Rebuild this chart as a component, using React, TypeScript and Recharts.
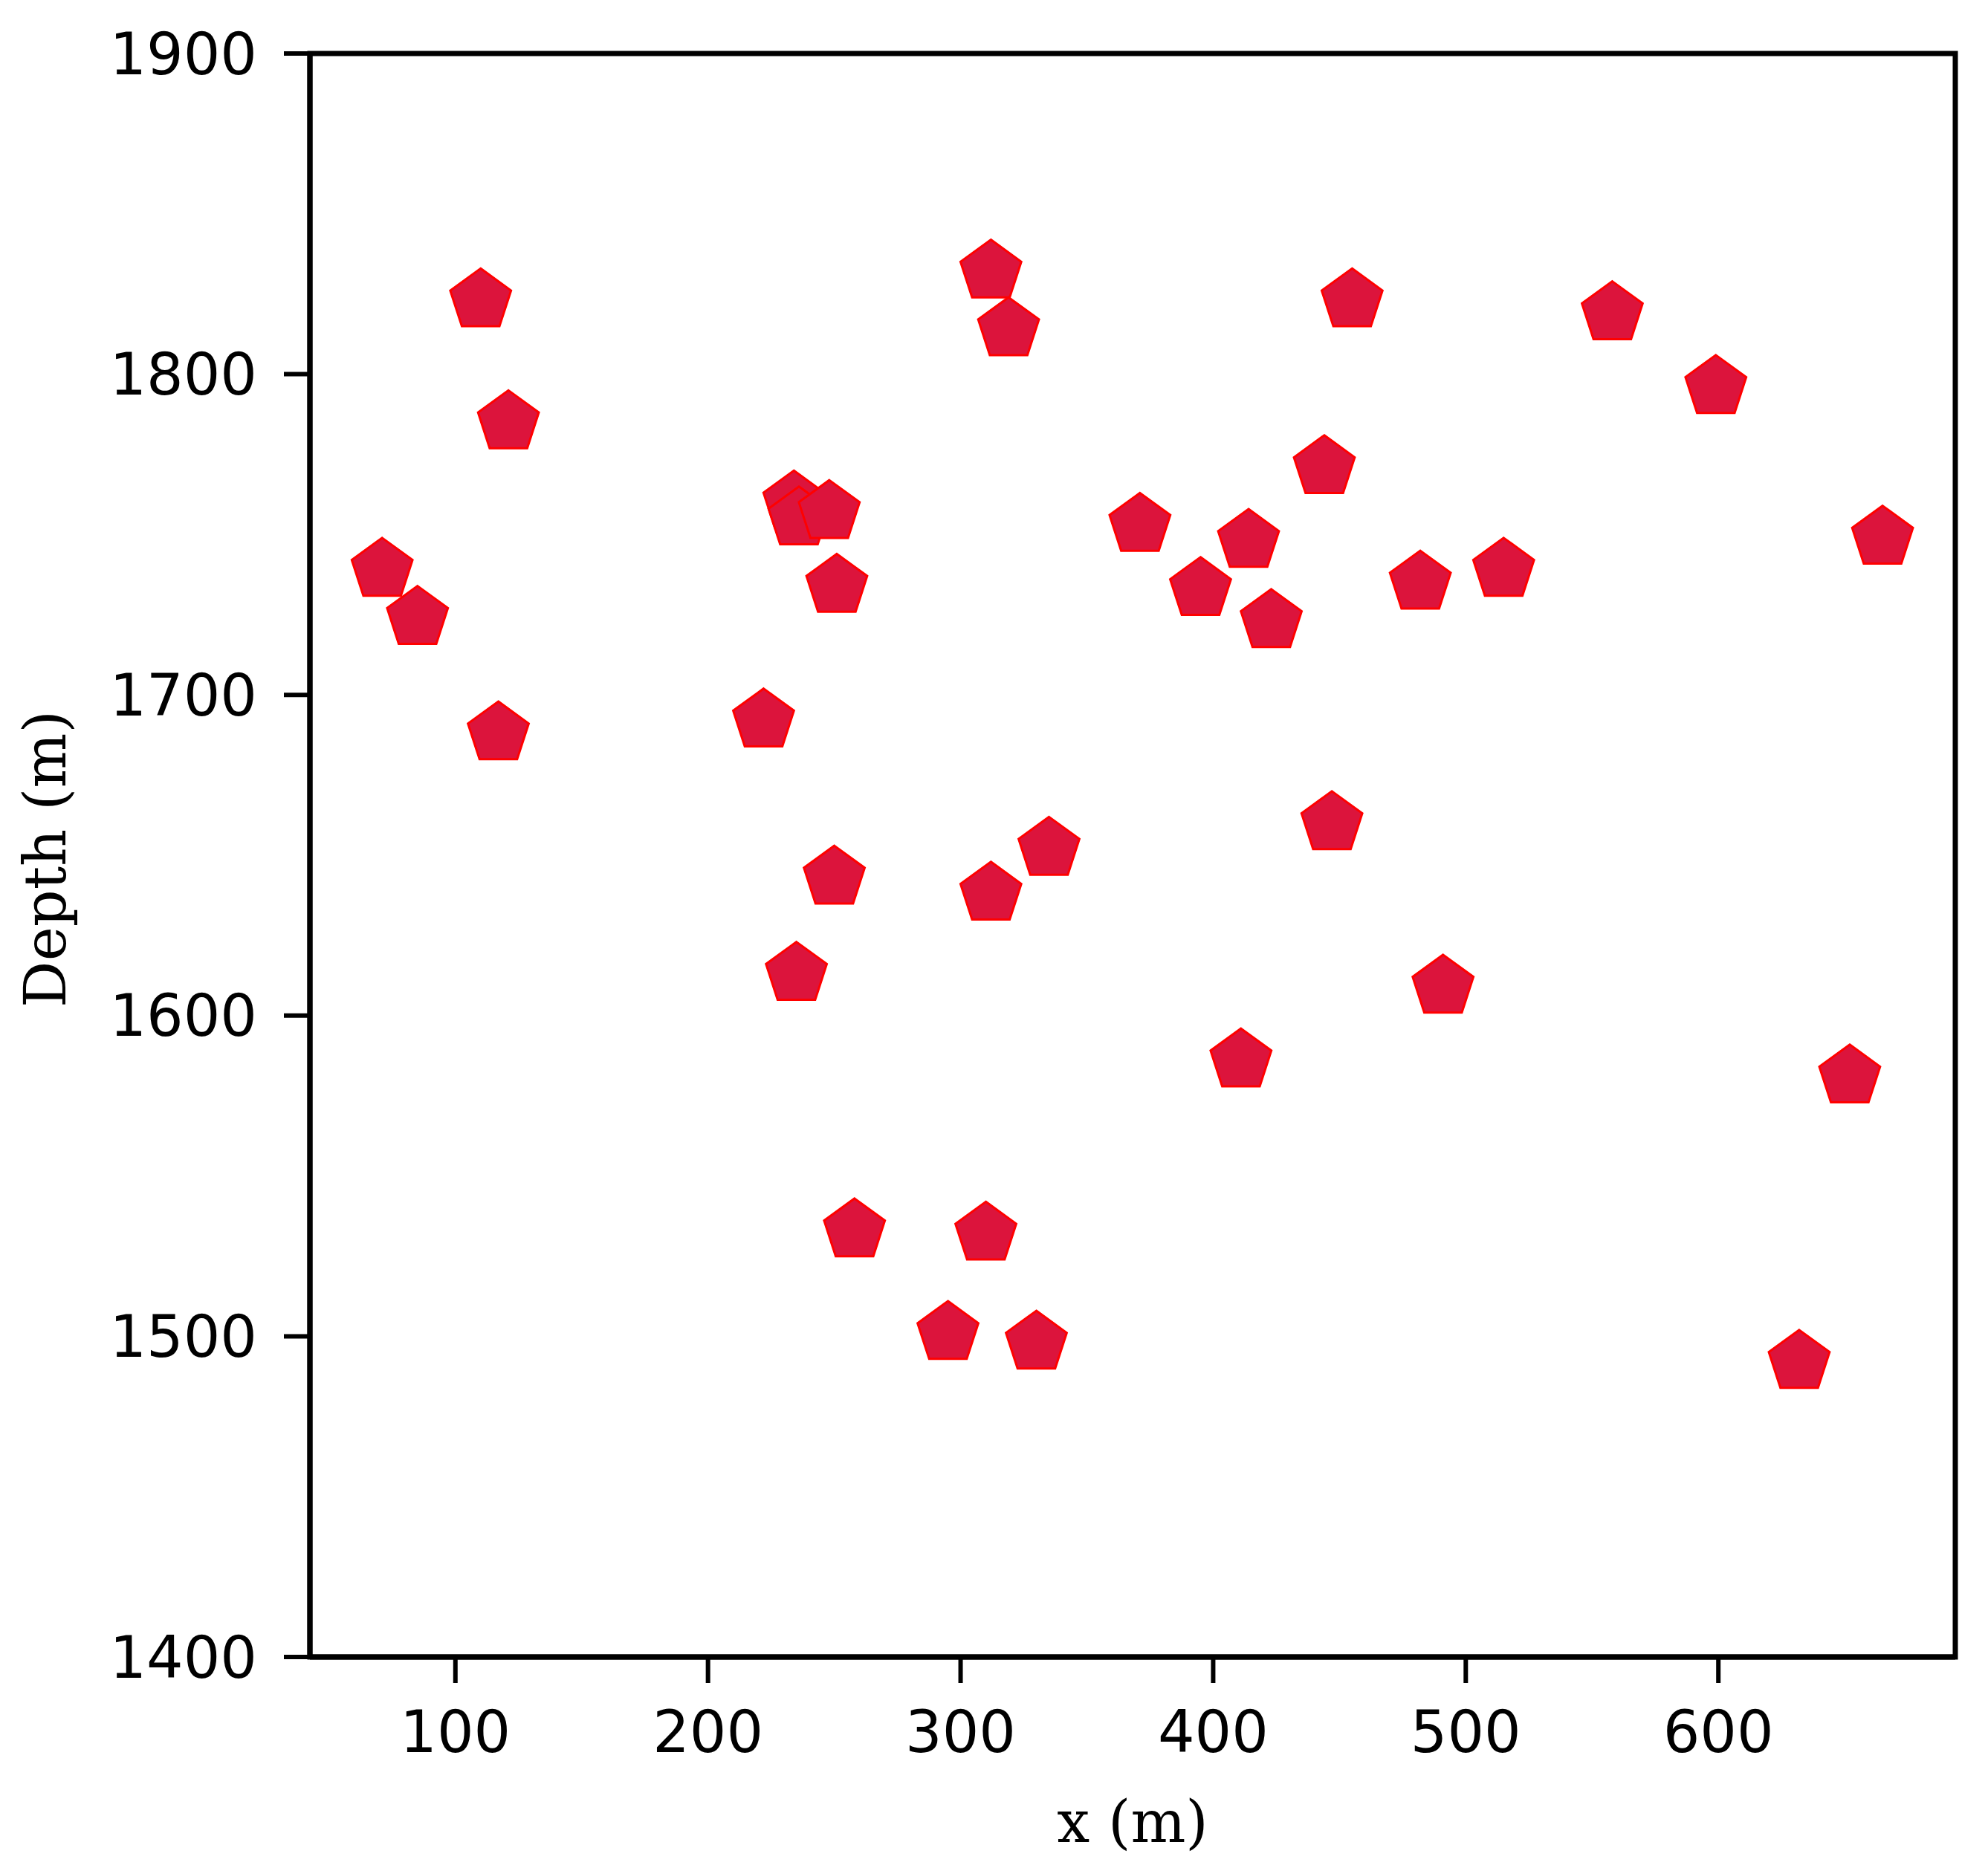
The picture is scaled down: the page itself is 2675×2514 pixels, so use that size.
import React from 'react';
import { ScatterChart, Scatter, XAxis, YAxis, ReferenceArea, Label } from 'recharts';

const xValues = [110, 121, 71, 85, 117, 222, 234, 236, 248, 251, 250, 235, 258, 295, 310, 330, 312, 335, 312, 319, 371, 395, 414, 423, 444, 455, 447, 411, 491, 482, 515, 558, 599, 665, 652, 632];
const yValues = [1823, 1785, 1739, 1724, 1688, 1692, 1760, 1755, 1757, 1734, 1643, 1613, 1533, 1501, 1532, 1498, 1638, 1652, 1832, 1814, 1753, 1733, 1748, 1723, 1771, 1823, 1660, 1586, 1609, 1735, 1739, 1819, 1796, 1749, 1581, 1492];
const xTicks = [100, 200, 300, 400, 500, 600];
const yTicks = [1400, 1500, 1600, 1700, 1800, 1900];
const xDomain = [42.4, 693.8];
const yDomain = [1400, 1900];

const points = xValues.map((x, i) => ({ x, y: yValues[i] }));

const FONT_SANS = '"DejaVu Sans", sans-serif';
const FONT_SERIF = '"DejaVu Serif", serif';

const Pentagon = (props: any) => {
  const { cx, cy } = props;
  if (cx == null || cy == null) return null;
  const R = 43;
  const pts: string[] = [];
  for (let k = 0; k < 5; k++) {
    const a = -Math.PI / 2 + (k * 2 * Math.PI) / 5;
    pts.push(`${cx + R * Math.cos(a)},${cy + R * Math.sin(a)}`);
  }
  return <polygon points={pts.join(' ')} fill="#DC143C" stroke="#FF0000" strokeWidth={3} strokeLinejoin="miter" />;
};

export default function App() {
  return (
    <div style={{ width: 2667, height: 2506, background: '#fff' }}>
      <ScatterChart width={2667} height={2506} margin={{ top: 64, right: 44, left: 0, bottom: 0 }}>
        <XAxis
          type="number"
          dataKey="x"
          domain={xDomain}
          allowDataOverflow
          ticks={xTicks}
          height={284}
          tickSize={35}
          tickMargin={38}
          axisLine={{ stroke: '#000', strokeWidth: 7 }}
          tickLine={{ stroke: '#000', strokeWidth: 6 }}
          tick={{ fill: '#000', fontSize: 78, fontFamily: FONT_SANS }}
        >
          <Label
            content={(p: any) => {
              const vb = p.viewBox;
              return (
                <text
                  x={vb.x + vb.width / 2}
                  y={2471}
                  textAnchor="middle"
                  fontFamily={FONT_SERIF}
                  fontSize={78}
                  fill="#000"
                >
                  x (m)
                </text>
              );
            }}
          />
        </XAxis>
        <YAxis
          type="number"
          dataKey="y"
          domain={yDomain}
          allowDataOverflow
          ticks={yTicks}
          width={409}
          tickSize={35}
          tickMargin={36}
          axisLine={{ stroke: '#000', strokeWidth: 7 }}
          tickLine={{ stroke: '#000', strokeWidth: 6 }}
          tick={{ fill: '#000', fontSize: 78, fontFamily: FONT_SANS }}
        >
          <Label
            content={(p: any) => {
              const vb = p.viewBox;
              const cy = vb.y + vb.height / 2 + 5;
              return (
                <text
                  transform={`translate(80, ${cy}) rotate(-90)`}
                  textAnchor="middle"
                  fontFamily={FONT_SERIF}
                  fontSize={78}
                  fill="#000"
                >
                  Depth (m)
                </text>
              );
            }}
          />
        </YAxis>
        <ReferenceArea
          x1={xDomain[0]}
          x2={xDomain[1]}
          y1={yDomain[0]}
          y2={yDomain[1]}
          fill="none"
          fillOpacity={0}
          stroke="#000"
          strokeWidth={7}
          ifOverflow="visible"
        />
        <Scatter data={points} shape={Pentagon} isAnimationActive={false} />
      </ScatterChart>
    </div>
  );
}
